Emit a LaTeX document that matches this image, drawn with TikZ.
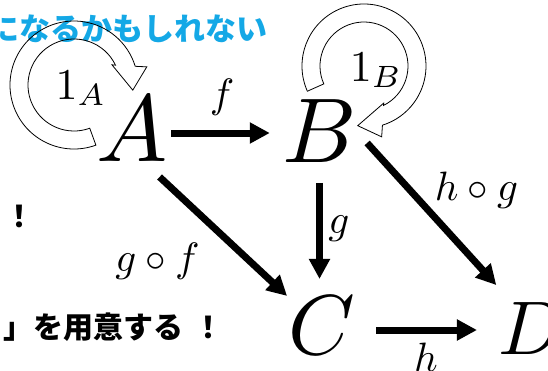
\documentclass[tikz,border=0pt]{standalone}
\usepackage{fontspec}
\usepackage{amsmath}
\usetikzlibrary{arrows.meta, calc}
\newfontfamily\jpfont{Noto Sans CJK JP}
\definecolor{noteblue}{HTML}{14A8E6}

\begin{document}
\begin{tikzpicture}[
    x=1pt, y=1pt,
    obj/.style={inner sep=0pt, outer sep=0pt},
    lbl/.style={inner sep=0pt, scale=4.1},
    mor/.style={-{Triangle[length=20pt, width=20pt]}, line width=7pt},
    idarrow/.style={draw=black, line width=0.8pt, line join=miter},
    jp/.style={inner sep=0pt, font={\jpfont\bfseries\fontsize{30}{36}\selectfont}}
]
\useasboundingbox (0,0) rectangle (548,-370);

% side notes (cut off at the left)
\node[jp, text=noteblue, anchor=base east, font={\jpfont\bfseries\fontsize{31}{36}\selectfont}] (note1) at (268,-40.5) {になるかもしれない};
\node[jp, anchor=base] (note2) at (20,-227) {！};
\node[jp, anchor=base west] (note3) at (3,-338) {」を用意する\kern10pt！};

% objects
\node[obj, scale=9.5] (A) at (132.5,-129.5) {$A$};
\node[obj, scale=9.2] (B) at (319.5,-131.5) {$B$};
\node[obj, scale=8.5] (C) at (322,-325) {$C$};
\node[obj, scale=7.6] (D) at (531.5,-329) {$D$};

% morphisms
\draw[mor, shorten <=3pt, shorten >=12.5pt] ([yshift=-3.5pt]A.east) -- ([yshift=-1.5pt]B.west);
\draw[mor, shorten <=20pt, shorten >=17pt] (B.south) -- (B.south |- C.north);
\draw[mor, shorten <=22pt] ([xshift=11pt]A.south) -- ([xshift=-1.5pt]C.north west);
\draw[mor, shorten <=15.5pt, shorten >=4pt] (B.east) -- ([yshift=15pt]D.north west);
\draw[mor, shorten <=21pt, shorten >=22pt] ([yshift=-5pt]C.east) -- ([yshift=-1pt]D.west);

\node[lbl] (lf) at (222,-97) {$f$};
\node[lbl] (lg) at (339,-228.5) {$g$};
\node[lbl] (lgf) at (157.5,-261) {$g\circ f$};
\node[lbl] (lhg) at (476.5,-190) {$h\circ g$};
\node[lbl] (lh) at (426,-357) {$h$};

% identities
\begin{scope}[shift={($(A.center)+(-58.5,44.5)$)}]
  \draw[idarrow] (290:64) arc[start angle=290, end angle=17, radius=64]
    -- (14:75) -- (-5:59) -- (28:43) -- (25.6:46)
    arc[start angle=25.6, end angle=290, radius=46] -- cycle;
\end{scope}
\begin{scope}[shift={($(B.center)+(44.5,65.5)$)}]
  \draw[idarrow] (204:62) arc[start angle=204, end angle=-72.7, radius=62]
    -- (-76:73) -- (-96:60) -- (-62:42) -- (-63.6:44)
    arc[start angle=-63.6, end angle=204, radius=44] -- cycle;
\end{scope}
\node[inner sep=0pt, scale=4.4] (idA) at (81,-88.5) {$1_A$};
\node[inner sep=0pt, scale=4.4] (idB) at (376,-70.5) {$1_B$};

\end{tikzpicture}
\end{document}
